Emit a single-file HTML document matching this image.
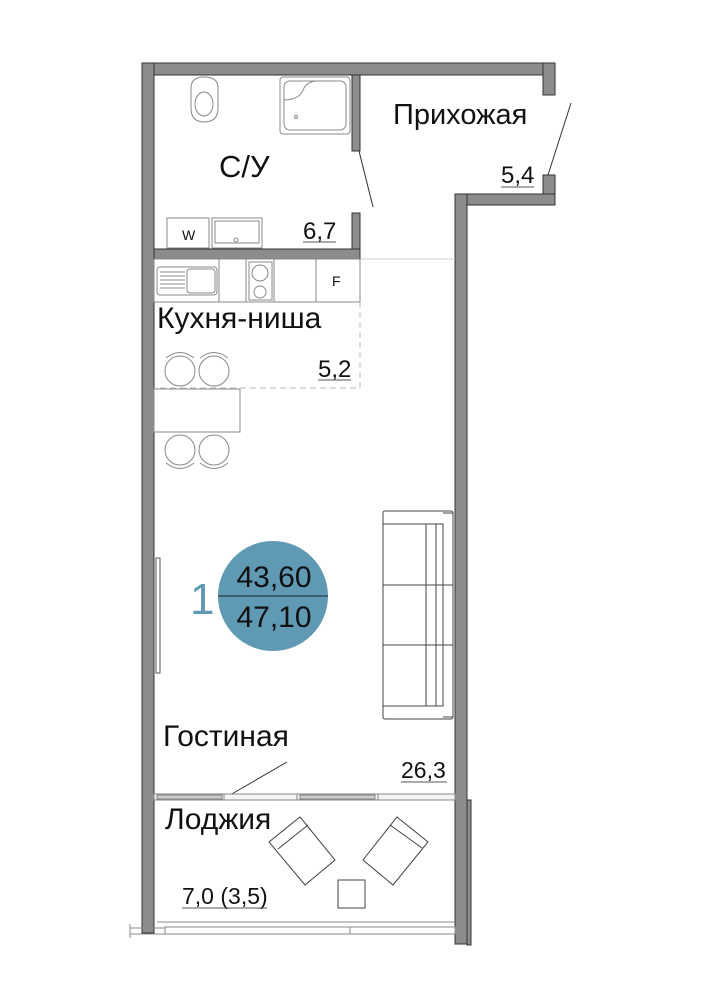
<!DOCTYPE html>
<html><head><meta charset="utf-8"><style>
html,body{margin:0;padding:0;background:#fff}
svg{display:block}
text{font-family:"Liberation Sans",sans-serif;fill:#111}
</style></head><body>
<svg width="707" height="1000" viewBox="0 0 707 1000" xmlns="http://www.w3.org/2000/svg">
<g fill="#8c8c8e" stroke="#333" stroke-width="1">
<rect x="142" y="63" width="413" height="12"/>
<rect x="142" y="63" width="12" height="870"/>
<rect x="543" y="63" width="12" height="32"/>
<rect x="543" y="175" width="12" height="30"/>
<rect x="455" y="194" width="100" height="11"/>
<rect x="455" y="194" width="12" height="750"/>
<rect x="352" y="75" width="8" height="76"/>
<rect x="352" y="213" width="8" height="46"/>
<rect x="154" y="249" width="206" height="10"/>
<rect x="467" y="800" width="4" height="145"/>
</g>
<g fill="none" stroke="#333" stroke-width="1">
<line x1="359" y1="151" x2="373" y2="207"/>
<line x1="548" y1="175" x2="571" y2="103"/>
</g>
<g fill="none" stroke="#888" stroke-width="1">
<path d="M191 88 Q191 77 204 77 Q218 77 218 88 L218 108 Q218 122 204 122 Q191 122 191 108 Z"/>
<ellipse cx="204" cy="104" rx="9" ry="12"/>
<rect x="280" y="77" width="70" height="57" rx="3"/>
<rect x="284" y="81" width="62" height="49" rx="6"/>
<path d="M284 100 Q300 100 304 88 Q308 81 318 81"/>
<circle cx="296" cy="117" r="1.5"/>
<rect x="167" y="218" width="42" height="30"/>
<rect x="212" y="218" width="50" height="30"/>
<rect x="215" y="221" width="44" height="22"/>
<circle cx="236" cy="240" r="2"/>
<line x1="360" y1="259" x2="455" y2="259" stroke="#ccc"/>
<rect x="154" y="259" width="206" height="43"/>
<line x1="219" y1="259" x2="219" y2="302"/>
<line x1="246" y1="259" x2="246" y2="302"/>
<line x1="274" y1="259" x2="274" y2="302"/>
<line x1="316" y1="259" x2="316" y2="302"/>
<rect x="157" y="267" width="60" height="28" rx="3"/>
<rect x="187" y="269" width="28" height="24" rx="3"/>
<path d="M160 272h25M160 276h25M160 280h25M160 284h25M160 288h25"/>
<rect x="249" y="262" width="23" height="38"/>
<circle cx="260" cy="273" r="8"/><circle cx="260" cy="292" r="6"/>
<path d="M360 302V388H154" stroke="#bbb" stroke-dasharray="6 4"/>
<circle cx="180" cy="371" r="15"/><circle cx="214" cy="371" r="15"/>
<path d="M166 358 Q180 347 194 358M200 358 Q214 347 228 358"/>
<rect x="154" y="389" width="86" height="43"/>
<circle cx="180" cy="450" r="15"/><circle cx="214" cy="450" r="15"/>
<path d="M166 463 Q180 474 194 463M200 463 Q214 474 228 463"/>
<rect x="156" y="558" width="4" height="115" stroke="#555"/>
<g stroke="#444">
<rect x="383" y="511" width="70" height="208" rx="2"/>
<line x1="383" y1="524" x2="443" y2="524"/>
<line x1="383" y1="706" x2="443" y2="706"/>
<rect x="426" y="524" width="17" height="182"/>
<line x1="436" y1="524" x2="436" y2="706"/>
<line x1="383" y1="585" x2="453" y2="585"/>
<line x1="383" y1="645" x2="453" y2="645"/>
<line x1="443" y1="513" x2="453" y2="513"/><line x1="443" y1="717" x2="453" y2="717"/>
</g>
<line x1="230" y1="795" x2="287" y2="762" stroke="#333"/>
<rect x="154" y="794" width="301" height="6" fill="#f4f4f4"/>
<rect x="157" y="795" width="65" height="4" fill="#ccc"/>
<rect x="300" y="795" width="75" height="4" fill="#ccc"/>
<line x1="224" y1="794" x2="224" y2="800"/><line x1="297" y1="794" x2="297" y2="800"/><line x1="378" y1="794" x2="378" y2="800"/>
<g stroke="#444">
<polygon points="300,817 335,860 305,885 269,842"/>
<line x1="278" y1="849" x2="308" y2="825"/>
<polygon points="397,817 428,842 393,885 363,860"/>
<line x1="390" y1="825" x2="422" y2="848"/>
<rect x="338" y="880" width="27" height="28"/>
</g>
<line x1="157" y1="922" x2="455" y2="922"/>
<rect x="165" y="927" width="290" height="7"/>
<line x1="350" y1="927" x2="350" y2="934"/>
<rect x="130" y="928" width="35" height="6"/>
<line x1="130" y1="924" x2="130" y2="938"/>
</g>
<text x="182" y="240" font-size="14">W</text>
<text x="332" y="286" font-size="14">F</text>
<circle cx="273" cy="596" r="55" fill="#5f99b4"/>
<line x1="218" y1="596" x2="328" y2="596" stroke="#2d4d5c" stroke-width="1.5"/>
<text x="274" y="587" font-size="30" text-anchor="middle">43,60</text>
<text x="274" y="627" font-size="30" text-anchor="middle">47,10</text>
<text x="190" y="614" font-size="44" style="fill:#5f99b4">1</text>
<text x="393" y="124" font-size="29">Прихожая</text>
<text x="501" y="183" font-size="24">5,4</text>
<line x1="501" y1="187" x2="534" y2="187" stroke="#555"/>
<text x="219" y="177" font-size="31">С/У</text>
<text x="303" y="239" font-size="24">6,7</text>
<line x1="303" y1="242" x2="336" y2="242" stroke="#555"/>
<text x="157" y="328" font-size="30">Кухня-ниша</text>
<text x="318" y="377" font-size="24">5,2</text>
<line x1="318" y1="380" x2="351" y2="380" stroke="#555"/>
<text x="163" y="746" font-size="30">Гостиная</text>
<text x="401" y="778" font-size="23">26,3</text>
<line x1="401" y1="782" x2="447" y2="782" stroke="#555"/>
<text x="165" y="829" font-size="30">Лоджия</text>
<text x="182" y="904" font-size="23">7,0 (3,5)</text>
<line x1="182" y1="908" x2="267" y2="908" stroke="#555"/>
</svg>
</body></html>
